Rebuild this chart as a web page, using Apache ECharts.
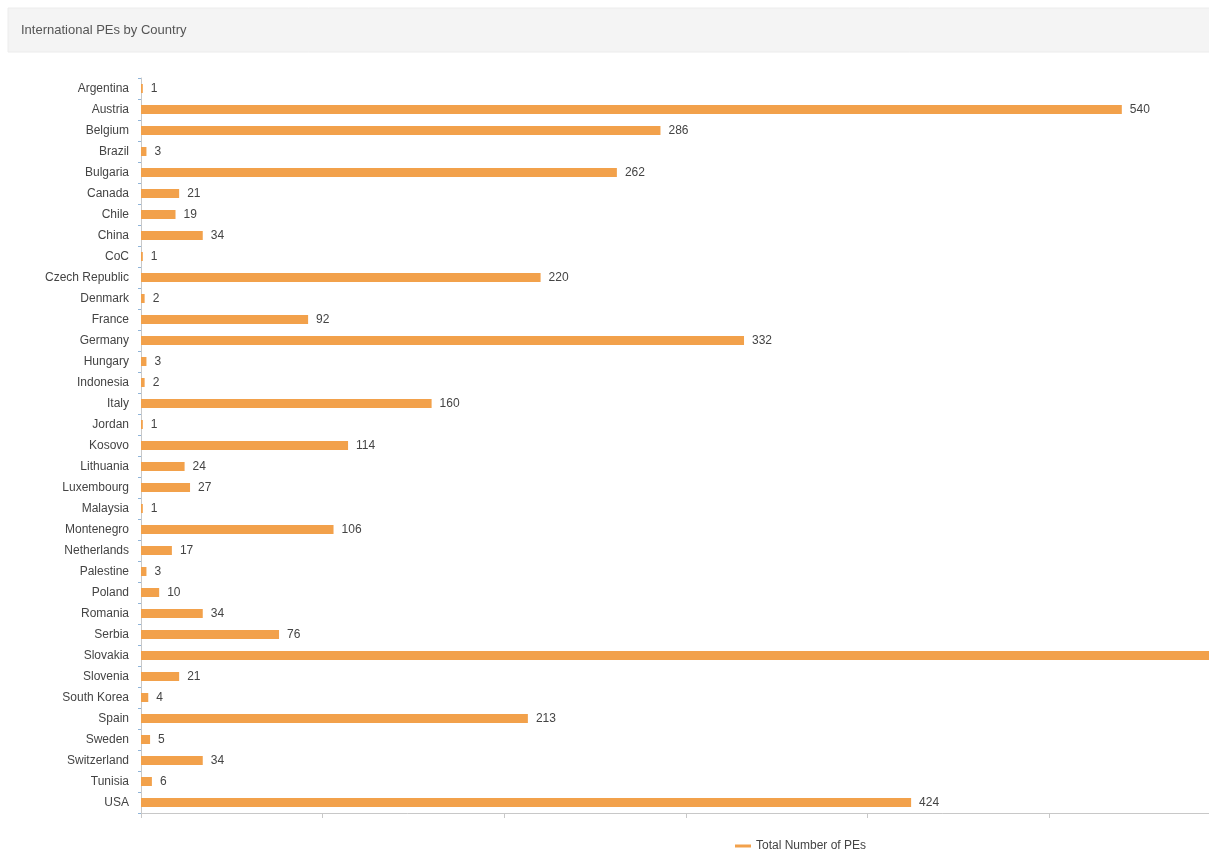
<!DOCTYPE html>
<html>
<head>
<meta charset="utf-8">
<script src="https://cdn.jsdelivr.net/npm/echarts@6/dist/echarts.min.js"></script>
<style>
  html, body { margin: 0; padding: 0; background: #fff; }
  #main { width: 1209px; height: 851px; }
</style>
</head>
<body>
<div id="main"></div>
<script>
var chartDom = document.getElementById('main');
var myChart = echarts.init(chartDom);

var countries = [
  'Argentina', 'Austria', 'Belgium', 'Brazil', 'Bulgaria', 'Canada', 'Chile',
  'China', 'CoC', 'Czech Republic', 'Denmark', 'France', 'Germany', 'Hungary',
  'Indonesia', 'Italy', 'Jordan', 'Kosovo', 'Lithuania', 'Luxembourg',
  'Malaysia', 'Montenegro', 'Netherlands', 'Palestine', 'Poland', 'Romania',
  'Serbia', 'Slovakia', 'Slovenia', 'South Korea', 'Spain', 'Sweden',
  'Switzerland', 'Tunisia', 'USA'
];
// Slovakia runs past the right edge, so its value is only a lower bound
var totalPEs = [
  1, 540, 286, 3, 262, 21, 19,
  34, 1, 220, 2, 92, 332, 3,
  2, 160, 1, 114, 24, 27,
  1, 106, 17, 3, 10, 34,
  76, 600, 21, 4, 213, 5,
  34, 6, 424
];
var seriesName = 'Total Number of PEs';

var FONT = '"Liberation Sans", Arial, sans-serif';
var ORANGE = '#f2a14b';

var option = {
  textStyle: { fontFamily: FONT },
  graphic: [{
    type: 'rect',
    shape: { x: 8, y: 8, width: 1210, height: 44 },
    style: { fill: '#f4f4f4', stroke: '#ececec', lineWidth: 1 },
    z: -1
  }],
  title: {
    text: 'International PEs by Country',
    left: 16,
    top: 19,
    textStyle: { fontSize: 13, fontWeight: 'normal', color: '#555', fontFamily: FONT }
  },
  legend: {
    data: [seriesName],
    left: 730,
    top: 835,
    icon: 'rect',
    itemWidth: 16,
    itemHeight: 3,
    itemGap: 10,
    textStyle: { fontSize: 12, color: '#444', fontFamily: FONT }
  },
  grid: {
    left: 141,
    top: 78,
    right: 0,
    height: 735
  },
  xAxis: {
    type: 'value',
    min: 0,
    max: 588,
    interval: 100,
    axisLine: { show: true, lineStyle: { color: '#c8c8c8' } },
    axisTick: { show: true, length: 5, lineStyle: { color: '#c8c8c8' } },
    axisLabel: { show: false },
    splitLine: { show: false }
  },
  yAxis: {
    type: 'category',
    data: countries,
    inverse: true,
    axisLine: { show: true, lineStyle: { color: '#c8c8c8' } },
    axisTick: { show: true, length: 3, lineStyle: { color: '#8fb4d8' } },
    axisLabel: { fontSize: 12, color: '#444', margin: 12, fontFamily: FONT }
  },
  series: [{
    name: seriesName,
    type: 'bar',
    data: totalPEs,
    barWidth: 9,
    clip: true,
    itemStyle: { color: ORANGE },
    label: {
      show: true,
      position: 'right',
      distance: 8,
      fontSize: 12,
      color: '#444',
      fontFamily: FONT
    }
  }]
};

option && myChart.setOption(option);
</script>
</body>
</html>
